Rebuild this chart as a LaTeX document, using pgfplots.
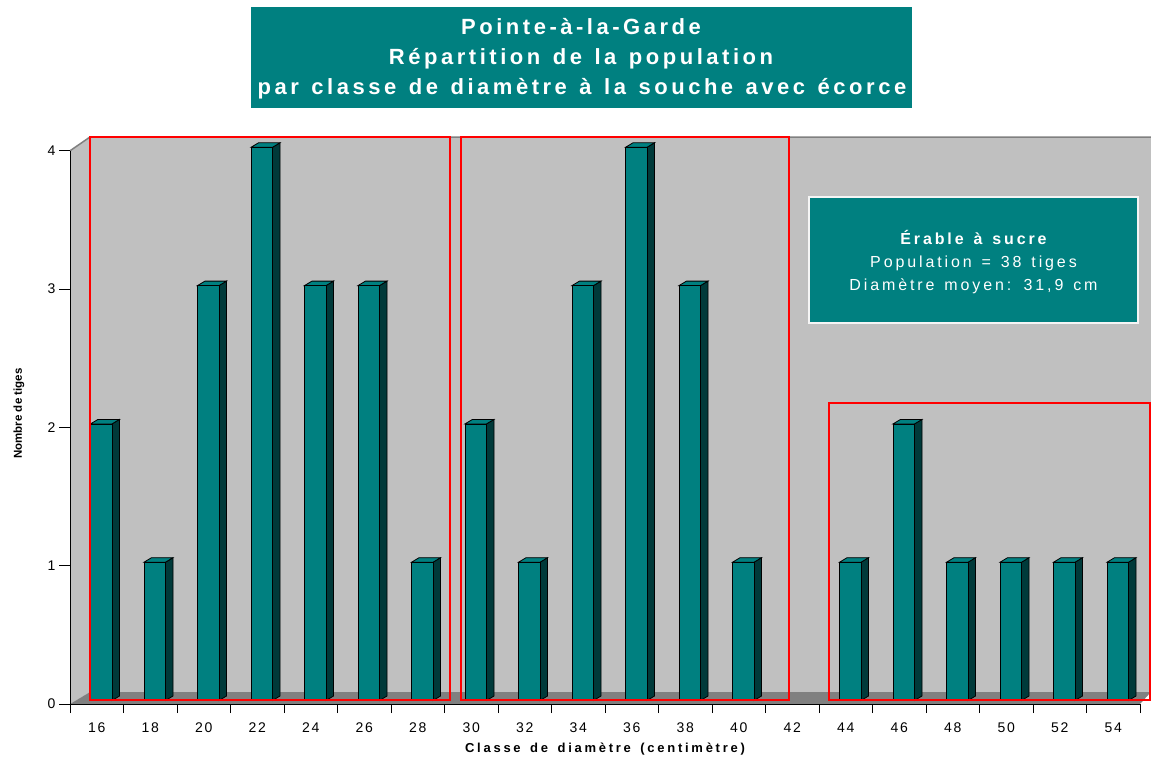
\documentclass[border=0pt]{standalone}
\usepackage{fontspec}
\setmainfont{Liberation Sans}
\usepackage{pgfplots}
\pgfplotsset{compat=1.18}
\usepackage{pgfplotstable}
\newfontfamily\tickfont[LetterSpace=12]{Liberation Sans}
\newfontfamily\titlefont[LetterSpace=16,WordSpace=1.3]{Liberation Sans}
\newfontfamily\boxfont[LetterSpace=18,WordSpace=1.35]{Liberation Sans}
\newfontfamily\xlabfont[LetterSpace=21,WordSpace=1.5]{Liberation Sans}
\definecolor{tealA}{HTML}{008080}
\definecolor{tealD}{HTML}{003A3A}
\definecolor{wallgray}{HTML}{C0C0C0}
\definecolor{floorgray}{HTML}{808080}
\pgfdeclareplotmark{nothing}{}
\pgfplotstableread{
classe n
16 2
18 1
20 3
22 4
24 3
26 3
28 1
30 2
32 1
34 3
36 4
38 3
40 1
42 0
44 1
46 2
48 1
50 1
52 1
54 1
}\datatable
\begin{document}
\begin{tikzpicture}
\begin{scope}[x=1bp,y=-1bp]
\path[use as bounding box] (0,0) rectangle (1151,759);
\fill[wallgray] (70,150.8) -- (90,137) -- (90,692) -- (70,704) -- cycle;
\fill[wallgray] (90,137) rectangle (1151,692);
\fill[floorgray] (70,704) -- (90,692) -- (1151,692) -- (1140,704) -- cycle;
\draw[floorgray, line width=1.5bp] (70,150.8) -- (90,137) -- (1151,137);
\draw[floorgray, line width=1.5bp] (90,137) -- (90,692);
\end{scope}
\begin{axis}[
  at={(70bp,-704bp)}, anchor=south west,
  x=26.75bp, y=138.3bp,
  xmin=15, xmax=55, ymin=0, ymax=4,
  clip=false,
  axis x line=bottom, axis y line=left,
  axis line style={-, black, line width=1bp},
  tick align=outside,
  xtick={16,18,...,54},
  xtick style={/pgfplots/major tick length=0pt},
  minor xtick={15,17,...,55},
  ytick={0,1,2,3,4},
  major tick length=11bp,
  minor tick length=9bp,
  tick style={black, line width=1bp},
  /pgf/number format/assume math mode=true,
  tick label style={font=\tickfont\fontsize{14bp}{16bp}\selectfont},
  xticklabel style={yshift=-4bp},
  xlabel={Classe de diamètre (centimètre)},
  ylabel={Nombre de tiges},
  xlabel style={font=\xlabfont\bfseries\fontsize{13bp}{15bp}\selectfont,
    at={(axis description cs:0.5,0)}, anchor=base, yshift=-48bp},
  ylabel style={font=\bfseries\fontsize{11.5bp}{13bp}\selectfont,
    at={([xshift=-51bp]axis description cs:0,0.525)}, anchor=center, rotate=0},
]
\addplot[scatter, only marks, mark=nothing,
  visualization depends on={y \as \hval},
  scatter/@pre marker code/.code={%
    \pgfmathsetmacro\yb{3.5-\hval*138.3}%
    \pgfmathsetmacro\ybb{\yb+4.5}%
    \ifdim\hval pt>0pt
      \filldraw[fill=tealD, draw=black, line width=0.8bp] (15.25bp,3.5bp) -- (22.75bp,8bp) -- (22.75bp,\ybb bp) -- (15.25bp,\yb bp) -- cycle;
      \filldraw[fill=tealA, draw=black, line width=0.8bp] (-6.25bp,3.5bp) -- (1.25bp,8bp) -- (22.75bp,8bp) -- (15.25bp,3.5bp) -- cycle;
      \filldraw[fill=tealA, draw=black, line width=0.8bp] (-6.25bp,3.5bp) rectangle (15.25bp,\yb bp);
    \fi
  },
  scatter/@post marker code/.code={},
] table[x=classe, y=n] {\datatable};
\end{axis}
\begin{scope}[x=1bp,y=-1bp]
\draw[red, line width=2bp] (90,137) rectangle (450,700);
\draw[red, line width=2bp] (461,137) rectangle (789,700);
\draw[red, line width=2bp] (829,403) rectangle (1150,700);
\filldraw[fill=tealA, draw=white!92!gray, line width=1.2bp] (809,197) rectangle (1138,323);
\node[anchor=base, text=white, font=\boxfont\bfseries\fontsize{16bp}{18bp}\selectfont, inner sep=0] at (973.5,244) {Érable à sucre};
\node[anchor=base, text=white, font=\boxfont\fontsize{16bp}{18bp}\selectfont, inner sep=0] at (973.5,267) {Population = 38 tiges};
\node[anchor=base, text=white, font=\boxfont\fontsize{16bp}{18bp}\selectfont, inner sep=0] at (973.5,290) {Diamètre moyen: 31,9 cm};
\fill[tealA] (251,7) rectangle (912,108);
\node[anchor=base, text=white, font=\titlefont\bfseries\fontsize{22bp}{26bp}\selectfont, inner sep=0] at (581,34.7) {Pointe-à-la-Garde};
\node[anchor=base, text=white, font=\titlefont\bfseries\fontsize{22bp}{26bp}\selectfont, inner sep=0] at (581,64.8) {Répartition de la population};
\node[anchor=base, text=white, font=\titlefont\bfseries\fontsize{22bp}{26bp}\selectfont, inner sep=0] at (582,95) {par classe de diamètre à la souche avec écorce};
\end{scope}
\end{tikzpicture}
\end{document}
